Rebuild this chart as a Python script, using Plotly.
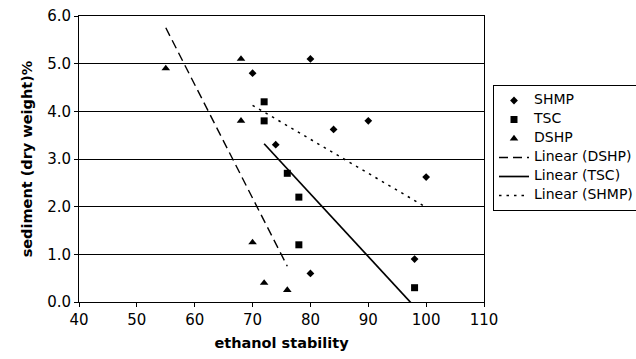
import numpy as np
import plotly.graph_objects as go

# Data
shmp_x = [70, 74, 80, 84, 90, 100, 98, 80]
shmp_y = [4.8, 3.3, 5.1, 3.62, 3.8, 2.62, 0.9, 0.6]
tsc_x = [72, 72, 76, 78, 78, 98]
tsc_y = [4.2, 3.8, 2.7, 2.2, 1.2, 0.3]
dshp_x = [55, 68, 68, 70, 72, 76]
dshp_y = [4.9, 5.1, 3.8, 1.25, 0.4, 0.25]

def linfit(x, y):
    m, b = np.polyfit(x, y, 1)
    xs = [min(x), max(x)]
    return xs, [m * v + b for v in xs]

FONT = "DejaVu Sans, Liberation Sans, Arial, sans-serif"

def lg(name):
    return '<span style="font-size:14px">%s</span>' % name

fig = go.Figure()

fig.add_trace(go.Scatter(x=shmp_x, y=shmp_y, mode="markers", name=lg("SHMP"),
                         marker=dict(symbol="diamond", size=6, color="black")))
fig.add_trace(go.Scatter(x=tsc_x, y=tsc_y, mode="markers", name=lg("TSC"),
                         marker=dict(symbol="square", size=7, color="black")))
fig.add_trace(go.Scatter(x=dshp_x, y=dshp_y, mode="markers", name=lg("DSHP"),
                         marker=dict(symbol="triangle-up", size=7.5, color="black")))

lx, ly = linfit(dshp_x, dshp_y)
fig.add_trace(go.Scatter(x=lx, y=ly, mode="lines", name=lg("Linear (DSHP)"),
                         line=dict(color="black", width=1.4, dash="9px,5px")))
lx, ly = linfit(tsc_x, tsc_y)
fig.add_trace(go.Scatter(x=lx, y=ly, mode="lines", name=lg("Linear (TSC)"),
                         line=dict(color="black", width=1.7)))
lx, ly = linfit(shmp_x, shmp_y)
fig.add_trace(go.Scatter(x=lx, y=ly, mode="lines", name=lg("Linear (SHMP)"),
                         line=dict(color="black", width=1.5, dash="2.5px,5px")))

fig.update_layout(
    width=636, height=359,
    margin=dict(l=79, r=152, t=16, b=57, autoexpand=False),
    paper_bgcolor="white", plot_bgcolor="white",
    font=dict(family=FONT, size=15, color="black"),
    showlegend=True,
    legend=dict(xref="container", yref="container",
                x=493 / 636, y=1 - 85 / 359, xanchor="left", yanchor="top",
                bordercolor="black", borderwidth=1, bgcolor="white",
                font=dict(family=FONT, size=10, color="black"),
                tracegroupgap=0, itemwidth=30),
    xaxis=dict(range=[40, 110], tickmode="linear", tick0=40, dtick=10,
               showgrid=False, zeroline=False, showline=True, linecolor="black",
               linewidth=1, mirror=True, ticks="outside", ticklen=4,
               tickcolor="black", tickfont=dict(size=15), automargin=False,
               title=dict(text="<b>ethanol stability</b>", standoff=9,
                          font=dict(family=FONT, size=14.5))),
    yaxis=dict(range=[0, 6], tickmode="linear", tick0=0, dtick=1,
               tickformat=".1f", showgrid=True, gridcolor="black", gridwidth=1,
               zeroline=False, showline=True, linecolor="black", linewidth=1,
               mirror=True, ticks="outside", ticklen=4, tickcolor="black",
               tickfont=dict(size=15), automargin=False,
               title=dict(text="<b>sediment (dry weight)%</b>", standoff=11,
                          font=dict(family=FONT, size=14.5))),
)

fig.write_html("out.html")
